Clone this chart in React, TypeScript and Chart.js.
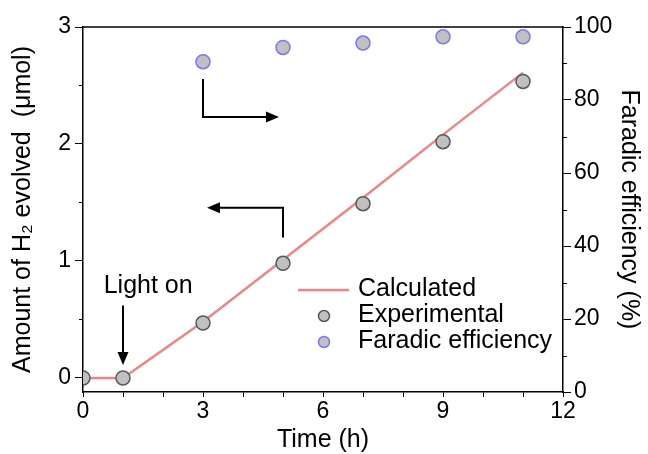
import React, { useEffect, useRef } from 'react';
import { Chart, registerables } from 'chart.js';

Chart.register(...registerables);

// ---- data ----
const hours = [0, 1, 3, 5, 7, 9, 11];
const experimental = [0, 0, 0.47, 0.98, 1.49, 2.02, 2.535];
const calculated = [0, 0, 0.48, 1.01, 1.54, 2.08, 2.61];
const feHours = [3, 5, 7, 9, 11];
const faradicEfficiency = [90.5, 94.4, 95.6, 97.3, 97.3];

const xTickValues = [0, 1, 2, 3, 4, 5, 6, 7, 8, 9, 10, 11, 12];
const xLabelValues = [0, 3, 6, 9, 12];
const leftTickValues = [0, 0.5, 1, 1.5, 2, 2.5, 3];
const leftLabelValues = [0, 1, 2, 3];
const rightTickValues = [0, 10, 20, 30, 40, 50, 60, 70, 80, 90, 100];
const rightLabelValues = [0, 20, 40, 60, 80, 100];

const seriesLabels = ['Calculated', 'Experimental', 'Faradic efficiency'];
const xTitle = 'Time (h)';
const yLeftTitle = 'Amount of H\u2082 evolved  (\u03bcmol)';
const yRightTitle = 'Faradic efficiency (%)';

// annotations (x in hours, y in left-axis units)
const lightOnLabel = 'Light on';
const lightOnTextPos = [1.63, 0.73];
const lightOnArrow = [[1.0, 0.62], [1.0, 0.11]];
const feArrow = [[3.0, 2.556], [3.0, 2.23], [4.9, 2.23]];
const h2Arrow = [[5.0, 1.2], [5.0, 1.455], [3.1, 1.455]];

const FAMILY = "Arial, 'Liberation Sans', sans-serif";
const LINE_COLOR = '#ef8585';
const FILL = '#c0c0c0';
const EXP_BORDER = '#585858';
const FE_BORDER = '#7878f0';

function drawArrow(ctx: CanvasRenderingContext2D, pts: number[][], xs: any, ys: any) {
  const p = pts.map(([x, y]) => [xs.getPixelForValue(x), ys.getPixelForValue(y)]);
  const n = p.length;
  const [tx, ty] = p[n - 1];
  const [px, py] = p[n - 2];
  const ang = Math.atan2(ty - py, tx - px);
  const headLen = 13;
  const headW = 5.5;
  const bx = tx - headLen * Math.cos(ang);
  const by = ty - headLen * Math.sin(ang);
  ctx.save();
  ctx.strokeStyle = '#000';
  ctx.fillStyle = '#000';
  ctx.lineWidth = 2;
  ctx.lineJoin = 'miter';
  ctx.beginPath();
  ctx.moveTo(p[0][0], p[0][1]);
  for (let i = 1; i < n - 1; i++) ctx.lineTo(p[i][0], p[i][1]);
  ctx.lineTo(bx, by);
  ctx.stroke();
  const nx = -Math.sin(ang);
  const ny = Math.cos(ang);
  ctx.beginPath();
  ctx.moveTo(tx, ty);
  ctx.lineTo(bx + nx * headW, by + ny * headW);
  ctx.lineTo(bx - nx * headW, by - ny * headW);
  ctx.closePath();
  ctx.fill();
  ctx.restore();
}

const decorPlugin = {
  id: 'decor',
  afterDraw(chart: any) {
    const ctx: CanvasRenderingContext2D = chart.ctx;
    const { left, right, top, bottom } = chart.chartArea;
    const xs = chart.scales.x;
    const yl = chart.scales.y;
    const yr = chart.scales.y2;
    ctx.save();
    // top frame line
    ctx.strokeStyle = '#000';
    ctx.lineWidth = 1.5;
    ctx.beginPath();
    ctx.moveTo(left - 0.75, top);
    ctx.lineTo(right + 0.75, top);
    ctx.stroke();
    // minor ticks
    ctx.lineWidth = 1;
    ctx.beginPath();
    leftTickValues.filter(v => !leftLabelValues.includes(v)).forEach(v => {
      const y = Math.round(yl.getPixelForValue(v)) + 0.5;
      ctx.moveTo(left - 4, y);
      ctx.lineTo(left, y);
    });
    rightTickValues.filter(v => !rightLabelValues.includes(v)).forEach(v => {
      const y = Math.round(yr.getPixelForValue(v)) + 0.5;
      ctx.moveTo(right, y);
      ctx.lineTo(right + 4, y);
    });
    ctx.stroke();

    // annotations
    ctx.fillStyle = '#000';
    ctx.font = `25px ${FAMILY}`;
    ctx.textAlign = 'center';
    ctx.textBaseline = 'alphabetic';
    ctx.fillText(lightOnLabel, xs.getPixelForValue(lightOnTextPos[0]), yl.getPixelForValue(lightOnTextPos[1]));
    drawArrow(ctx, lightOnArrow, xs, yl);
    drawArrow(ctx, feArrow, xs, yl);
    drawArrow(ctx, h2Arrow, xs, yl);

    // legend
    const ds = chart.data.datasets;
    const lx = left + 215;
    const rows = [bottom - 102, bottom - 76, bottom - 50];
    ctx.strokeStyle = ds[0].borderColor;
    ctx.lineWidth = ds[0].borderWidth;
    ctx.beginPath();
    ctx.moveTo(lx, rows[0]);
    ctx.lineTo(lx + 51, rows[0]);
    ctx.stroke();
    [1, 2].forEach(i => {
      ctx.beginPath();
      ctx.arc(lx + 26, rows[i], 5.5, 0, Math.PI * 2);
      ctx.fillStyle = ds[i].backgroundColor;
      ctx.fill();
      ctx.lineWidth = 1.5;
      ctx.strokeStyle = ds[i].borderColor;
      ctx.stroke();
    });
    ctx.fillStyle = '#000';
    ctx.font = `25px ${FAMILY}`;
    ctx.textAlign = 'left';
    ctx.textBaseline = 'middle';
    seriesLabels.forEach((t, i) => ctx.fillText(t, lx + 60, rows[i] - 1));
    ctx.restore();
  },
};

export default function App() {
  const ref = useRef<HTMLCanvasElement>(null);
  useEffect(() => {
    document.body.style.margin = '0';
    const canvas = ref.current;
    if (!canvas) return;
    const tickFont = { family: FAMILY, size: 23 };
    const titleFont = { family: FAMILY, size: 25, lineHeight: 1 };
    const chart = new Chart(canvas, {
      type: 'scatter',
      data: {
        datasets: [
          {
            type: 'line',
            label: seriesLabels[0],
            data: hours.map((h, i) => ({ x: h, y: calculated[i] })),
            borderColor: LINE_COLOR,
            borderWidth: 2.5,
            pointRadius: 0,
            fill: false,
            tension: 0,
            yAxisID: 'y',
            order: 3,
          } as any,
          {
            label: seriesLabels[1],
            data: hours.map((h, i) => ({ x: h, y: experimental[i] })),
            backgroundColor: FILL,
            borderColor: EXP_BORDER,
            borderWidth: 1.5,
            pointRadius: 7,
            yAxisID: 'y',
            order: 2,
          },
          {
            label: seriesLabels[2],
            data: feHours.map((h, i) => ({ x: h, y: faradicEfficiency[i] })),
            backgroundColor: FILL,
            borderColor: FE_BORDER,
            borderWidth: 1.5,
            pointRadius: 7,
            yAxisID: 'y2',
            order: 1,
          },
        ],
      },
      options: {
        responsive: false,
        animation: false,
        devicePixelRatio: 1,
        layout: { padding: { top: 27, left: 0, right: 0, bottom: 0 } },
        plugins: { legend: { display: false }, tooltip: { enabled: false } },
        scales: {
          x: {
            type: 'linear',
            min: 0,
            max: 12,
            afterBuildTicks: (s: any) => { s.ticks = xTickValues.map(v => ({ value: v })); },
            afterFit: (s: any) => { s.height = 62; },
            ticks: {
              autoSkip: false,
              maxRotation: 0,
              padding: 1,
              color: '#000',
              font: tickFont,
              callback: (v: any) => (xLabelValues.includes(Number(v)) ? String(v) : ''),
            },
            grid: { drawOnChartArea: false, drawTicks: true, tickLength: 5, color: '#000' },
            border: { display: true, color: '#000', width: 1.5 },
            title: { display: true, text: xTitle, color: '#000', font: titleFont, padding: { top: 0, bottom: 1.5 } },
          },
          y: {
            type: 'linear',
            position: 'left',
            min: -0.12,
            max: 3,
            afterBuildTicks: (s: any) => { s.ticks = leftTickValues.map(v => ({ value: v })); },
            afterFit: (s: any) => { s.width = 83; },
            ticks: {
              padding: 4,
              color: '#000',
              font: tickFont,
              callback: (v: any) => (leftLabelValues.includes(Number(v)) ? String(v) : ''),
            },
            grid: {
              drawOnChartArea: false,
              drawTicks: true,
              tickLength: 8,
              color: (c: any) => (c.tick && leftLabelValues.includes(c.tick.value) ? '#000' : 'rgba(0,0,0,0)'),
            },
            border: { display: true, color: '#000', width: 1.5 },
            title: { display: true, text: yLeftTitle, color: '#000', font: titleFont, padding: { top: 11, bottom: 0 } },
          },
          y2: {
            type: 'linear',
            position: 'right',
            min: 0,
            max: 100,
            afterBuildTicks: (s: any) => { s.ticks = rightTickValues.map(v => ({ value: v })); },
            afterFit: (s: any) => { s.width = 85; },
            ticks: {
              padding: 3,
              color: '#000',
              font: tickFont,
              callback: (v: any) => (rightLabelValues.includes(Number(v)) ? String(v) : ''),
            },
            grid: {
              drawOnChartArea: false,
              drawTicks: true,
              tickLength: 8,
              color: (c: any) => (c.tick && rightLabelValues.includes(c.tick.value) ? '#000' : 'rgba(0,0,0,0)'),
            },
            border: { display: true, color: '#000', width: 1.5 },
            title: { display: true, text: yRightTitle, color: '#000', font: titleFont, padding: { top: 7, bottom: 0 } },
          },
        },
      } as any,
      plugins: [decorPlugin],
    });
    return () => chart.destroy();
  }, []);
  return <canvas ref={ref} width={648} height={454} style={{ display: 'block', width: 648, height: 454 }} />;
}
